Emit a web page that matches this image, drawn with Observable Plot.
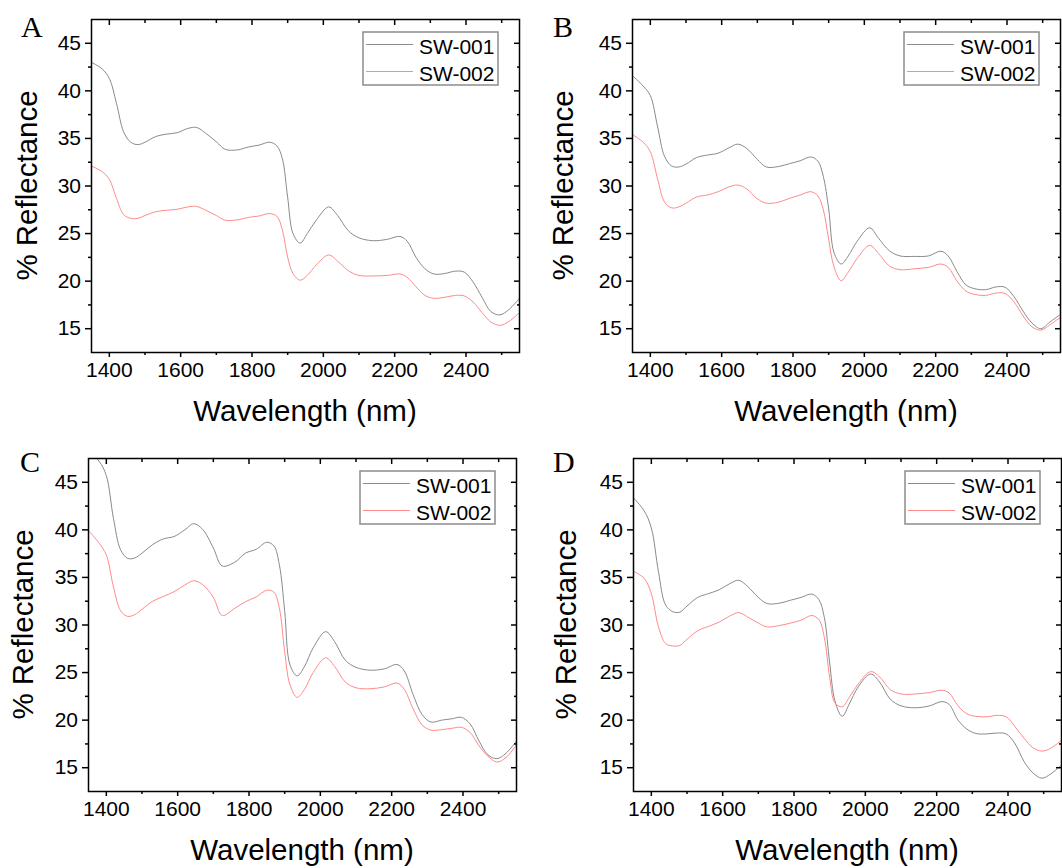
<!DOCTYPE html>
<html><head><meta charset="utf-8">
<script src="https://cdn.jsdelivr.net/npm/d3@7"></script>
<script src="https://cdn.jsdelivr.net/npm/@observablehq/plot@0.6"></script>
<style>
body{margin:0;background:#fff;}
#wrap{position:relative;width:1062px;height:868px;overflow:hidden;background:#fff;}
.panel{position:absolute;width:531px;height:434px;}
.panel svg{max-width:none !important;}
</style></head><body><div id="wrap"></div>
<script>
// ---- data ----
const wavelength = [1350,1380,1400,1420,1440,1460,1480,1500,1530,1560,1590,1620,1645,1670,1700,1725,1760,1790,1820,1850,1870,1885,1900,1915,1935,1955,1980,2015,2040,2070,2100,2140,2180,2215,2235,2260,2285,2310,2340,2370,2395,2420,2445,2470,2495,2520,2550];
const seriesNames = ["SW-001", "SW-002"];
const panelLetters = ["A", "B", "C", "D"];

const panelA_SW001 = [43.0,42.3,41.3,38.7,35.7,34.6,34.35,34.6,35.2,35.45,35.6,36.05,36.15,35.55,34.65,33.85,33.8,34.1,34.3,34.6,34.2,32.9,28.8,25.0,24.0,25.0,26.4,27.8,26.9,25.3,24.55,24.25,24.4,24.7,24.2,22.5,21.3,20.75,20.8,21.05,20.95,19.9,18.3,16.8,16.45,17.0,18.2];
const panelA_SW002 = [32.1,31.5,30.7,28.7,27.0,26.6,26.6,26.9,27.3,27.45,27.55,27.8,27.85,27.45,26.9,26.4,26.45,26.7,26.85,27.1,26.8,25.4,22.5,20.8,20.1,20.6,21.7,22.75,22.1,21.1,20.6,20.55,20.6,20.75,20.4,19.4,18.5,18.2,18.3,18.5,18.45,17.8,16.7,15.7,15.35,15.75,16.7];
const panelB_SW001 = [41.6,40.5,39.5,36.3,33.1,32.1,32.0,32.3,33.0,33.25,33.45,34.0,34.4,33.95,32.8,32.0,32.05,32.35,32.65,33.05,32.6,31.0,27.6,23.0,21.8,22.65,24.2,25.6,24.5,23.2,22.65,22.6,22.65,23.15,22.65,21.0,19.6,19.2,19.1,19.4,19.35,18.35,16.85,15.6,15.0,15.7,16.5];
const panelB_SW002 = [35.4,34.6,33.6,30.8,28.3,27.7,27.8,28.2,28.85,29.05,29.4,29.9,30.1,29.7,28.65,28.2,28.3,28.7,29.05,29.4,28.95,27.5,24.4,21.5,20.05,20.95,22.4,23.75,22.9,21.6,21.2,21.3,21.45,21.8,21.45,20.0,18.95,18.6,18.5,18.75,18.7,17.8,16.35,15.2,14.85,15.4,16.2];
const panelC_SW001 = [48.3,47.2,45.7,41.2,37.9,37.0,37.05,37.55,38.45,39.05,39.3,40.0,40.65,40.05,38.1,36.2,36.6,37.55,37.95,38.7,38.3,36.35,31.5,25.8,24.65,25.6,27.6,29.3,28.25,26.3,25.55,25.25,25.4,25.85,25.2,22.7,20.6,19.8,20.0,20.15,20.3,19.6,17.8,16.35,15.95,16.5,17.8];
const panelC_SW002 = [39.9,38.6,37.35,34.0,31.5,30.9,31.1,31.65,32.5,33.0,33.5,34.2,34.65,34.25,32.9,31.0,31.75,32.45,32.95,33.65,33.45,31.8,27.2,23.7,22.4,23.2,25.0,26.55,25.65,24.0,23.4,23.3,23.5,23.9,23.25,21.2,19.5,18.95,19.0,19.15,19.25,18.7,17.3,16.2,15.6,16.05,17.4];
const panelD_SW001 = [43.35,42.0,40.2,35.6,32.1,31.4,31.35,32.0,32.9,33.3,33.7,34.35,34.7,34.05,32.9,32.25,32.3,32.6,32.9,33.25,32.65,30.8,26.0,22.0,20.4,21.7,23.5,24.85,24.0,22.2,21.5,21.3,21.5,21.95,21.65,20.0,19.05,18.6,18.55,18.65,18.55,17.5,15.65,14.45,13.9,14.35,15.3];
const panelD_SW002 = [35.65,34.9,33.3,29.8,28.05,27.8,27.85,28.5,29.4,29.85,30.3,30.95,31.3,30.85,30.2,29.8,29.95,30.2,30.5,31.0,30.55,28.7,24.5,21.8,21.4,22.4,23.8,25.1,24.55,23.2,22.75,22.75,22.9,23.15,22.85,21.5,20.65,20.4,20.35,20.5,20.35,19.3,18.1,17.1,16.75,17.05,17.9];

const xMajorTicks = [1400,1600,1800,2000,2200,2400];
const xMinorTicks = [1500,1700,1900,2100,2300,2500];
const yMajorTicks = [15,20,25,30,35,40,45];
const yMinorTicks = [17.5,22.5,27.5,32.5,37.5,42.5];
const xLabel = "Wavelength (nm)";
const yLabel = "% Reflectance";

const panelSeries = [
  [panelA_SW001, panelA_SW002],
  [panelB_SW001, panelB_SW002],
  [panelC_SW001, panelC_SW002],
  [panelD_SW001, panelD_SW002]
];

// ---- layout ----
const W = 531, H = 434;
const mL = 91, mT = 19, mR = 12, mB = 82;
const layout = [
  {left: 0,   top: 0,   letterX: 21, letterY: 37, yLabX: 37},
  {left: 541, top: 0,   letterX: 12, letterY: 37, yLabX: 32},
  {left: -3,  top: 439, letterX: 23, letterY: 33, yLabX: 36},
  {left: 542, top: 439, letterX: 11, letterY: 33, yLabX: 34}
];
const colors = ["#8a8a8a", "#ff8a8a"];
const sans = "'Liberation Sans', Arial, sans-serif";
const ax = {label: null, fill: "none", stroke: "black", strokeWidth: 1.5};

const wrap = document.getElementById("wrap");

panelSeries.forEach((pair, p) => {
  const rows = [];
  pair.forEach((vals, s) => vals.forEach((v, i) => rows.push({wl: wavelength[i], value: v, series: seriesNames[s]})));

  const chart = Plot.plot({
    width: W, height: H,
    marginLeft: mL, marginTop: mT, marginRight: mR, marginBottom: mB,
    style: {fontFamily: sans, background: "transparent", color: "black", maxWidth: "none"},
    x: {domain: [1350, 2550]},
    y: {domain: [12.5, 47.5]},
    color: {domain: seriesNames, range: colors},
    marks: [
      Plot.line(rows, {x: "wl", y: "value", stroke: "series", z: "series", strokeWidth: 1, curve: "catmull-rom", clip: true}),
      // outward ticks on bottom/left, inward ticks on top/right
      Plot.axisX(xMajorTicks, {anchor: "bottom", tickSize: 5, ...ax}),
      Plot.axisX(xMinorTicks, {anchor: "bottom", tickSize: 3, ...ax}),
      Plot.axisX(xMajorTicks, {anchor: "top", tickSize: 5, dy: 5, ...ax}),
      Plot.axisX(xMinorTicks, {anchor: "top", tickSize: 3, dy: 3, ...ax}),
      Plot.axisY(yMajorTicks, {anchor: "left", tickSize: 6, ...ax}),
      Plot.axisY(yMinorTicks, {anchor: "left", tickSize: 3, ...ax}),
      Plot.axisY(yMajorTicks, {anchor: "right", tickSize: 6, dx: -6, ...ax}),
      Plot.axisY(yMinorTicks, {anchor: "right", tickSize: 3, dx: -3, ...ax}),
      // tick labels
      Plot.axisX(xMajorTicks, {anchor: "bottom", tickSize: 0, tickPadding: 10, fontSize: 21, label: null, tickFormat: d => String(d)}),
      Plot.axisY(yMajorTicks, {anchor: "left", tickSize: 0, tickPadding: 10.5, fontSize: 21, label: null, tickFormat: d => String(d)}),
      Plot.frame({stroke: "black", strokeWidth: 1.5})
    ]
  });

  const div = document.createElement("div");
  div.className = "panel";
  div.style.left = layout[p].left + "px";
  div.style.top = layout[p].top + "px";
  div.appendChild(chart);
  wrap.appendChild(div);

  const svg = d3.select(chart);
  const fx0 = mL, fy0 = mT, fx1 = W - mR, fy1 = H - mB;

  // panel letter
  svg.append("text").attr("x", layout[p].letterX).attr("y", layout[p].letterY).attr("text-anchor", "start")
    .attr("font-family", "'Liberation Serif', 'Times New Roman', serif").attr("font-size", 30).attr("fill", "black")
    .text(panelLetters[p]);

  // axis titles
  svg.append("text").attr("x", (fx0 + fx1) / 2).attr("y", fy1 + 69).attr("text-anchor", "middle")
    .attr("font-family", sans).attr("font-size", 29.5).attr("fill", "black").text(xLabel);
  svg.append("text").attr("transform", `translate(${layout[p].yLabX},${(fy0 + fy1) / 2}) rotate(-90)`)
    .attr("text-anchor", "middle").attr("font-family", sans).attr("font-size", 29.5).attr("fill", "black").text(yLabel);

  // legend
  const lx = fx1 - 21 - 135, ly = fy0 + 13;
  const lg = svg.append("g");
  lg.append("rect").attr("x", lx).attr("y", ly).attr("width", 135).attr("height", 53)
    .attr("fill", "white").attr("stroke", "#8c8c8c").attr("stroke-width", 1.5);
  seriesNames.forEach((name, s) => {
    const yy = ly + 12.5 + s * 27;
    lg.append("line").attr("x1", lx + 3).attr("x2", lx + 50).attr("y1", yy).attr("y2", yy)
      .attr("stroke", colors[s]).attr("stroke-width", 1.2);
    lg.append("text").attr("x", lx + 56).attr("y", yy + 9).attr("text-anchor", "start").attr("font-family", sans)
      .attr("font-size", 21).attr("fill", "black").text(name);
  });
});
</script></body></html>
